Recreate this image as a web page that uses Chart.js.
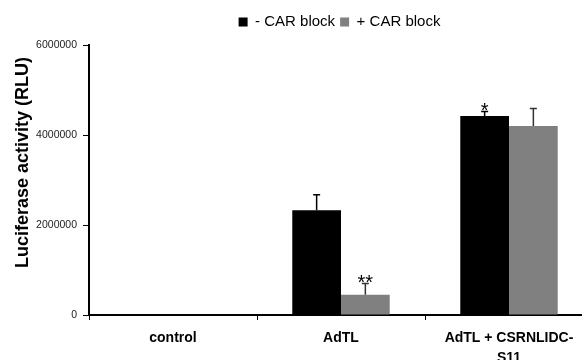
<!DOCTYPE html>
<html>
<head>
<meta charset="utf-8">
<script src="https://cdn.jsdelivr.net/npm/chart.js@4.4.1/dist/chart.umd.min.js"></script>
<style>
  html, body { margin: 0; padding: 0; background: #fff; overflow: hidden; width: 582px; height: 360px; }
  #wrap { position: absolute; left: 0; top: 0; width: 593px; height: 360px; }
</style>
</head>
<body>
<div id="wrap"><canvas id="c" width="593" height="360"></canvas></div>
<script>
// Luciferase activity with and without CAR blocking
const categories = ['control', 'AdTL', ['AdTL + CSRNLIDC-', 'S11']];
const seriesNames = ['- CAR block', '+ CAR block'];
const minusBlock = [0, 2330000, 4420000];
const plusBlock = [0, 450000, 4200000];
const minusBlockErr = [0, 340000, 100000];
const plusBlockErr = [0, 250000, 390000];
const minusBlockMarks = ['', '', '*'];
const plusBlockMarks = ['', '**', ''];
const yTicks = [0, 2000000, 4000000, 6000000];
const yTitle = 'Luciferase activity (RLU)';

const FONT = '"Liberation Sans", Arial, sans-serif';
const errors = [minusBlockErr, plusBlockErr];
const marks = [minusBlockMarks, plusBlockMarks];
const errColors = ['#000000', '#333333'];

// Legend sits right of centre and a little above its reserved band
const legendNudge = {
  id: 'legendNudge',
  afterLayout(chart) {
    const l = chart.legend;
    if (!l) return;
    l.left += 43; l.right += 43;
    l.top -= 5.5; l.bottom -= 5.5;
  }
};

// Upward error whiskers, significance stars and the rotated y title
const extras = {
  id: 'extras',
  afterDatasetsDraw(chart) {
    const ctx = chart.ctx;
    const y = chart.scales.y;
    ctx.save();
    chart.data.datasets.forEach((ds, i) => {
      const meta = chart.getDatasetMeta(i);
      meta.data.forEach((bar, j) => {
        const v = ds.data[j];
        const e = errors[i][j];
        let topPx = y.getPixelForValue(v);
        if (e > 0) {
          topPx = y.getPixelForValue(v + e);
          ctx.strokeStyle = errColors[i];
          ctx.lineWidth = 1.5;
          ctx.beginPath();
          ctx.moveTo(bar.x, y.getPixelForValue(v));
          ctx.lineTo(bar.x, topPx);
          ctx.moveTo(bar.x - 3.5, topPx);
          ctx.lineTo(bar.x + 3.5, topPx);
          ctx.stroke();
        }
        const m = marks[i][j];
        if (m) {
          ctx.font = '20px ' + FONT;
          ctx.fillStyle = '#000';
          ctx.textAlign = 'center';
          ctx.textBaseline = 'alphabetic';
          const mt = ctx.measureText(m);
          const asc = mt.actualBoundingBoxAscent, desc = mt.actualBoundingBoxDescent;
          const centerY = topPx - 5;
          ctx.fillText(m, bar.x, centerY + (asc - desc) / 2);
        }
      });
    });
    // y axis title
    ctx.font = 'bold 18px ' + FONT;
    ctx.fillStyle = '#000';
    ctx.textAlign = 'center';
    ctx.textBaseline = 'middle';
    ctx.translate(23.5, 162.5);
    ctx.rotate(-Math.PI / 2);
    ctx.fillText(yTitle, 0, 0);
    ctx.restore();
  }
};

new Chart(document.getElementById('c'), {
  type: 'bar',
  data: {
    labels: categories,
    datasets: [
      { label: seriesNames[0], data: minusBlock, backgroundColor: '#000000', borderWidth: 0 },
      { label: seriesNames[1], data: plusBlock, backgroundColor: '#808080', borderWidth: 0 }
    ]
  },
  options: {
    responsive: false,
    animation: false,
    devicePixelRatio: 1,
    layout: { padding: { left: 0, right: 0, top: 15, bottom: 0 } },
    categoryPercentage: 0.58,
    barPercentage: 1.0,
    plugins: {
      legend: {
        position: 'top',
        labels: {
          boxWidth: 9, boxHeight: 9, padding: 5,
          color: '#000',
          font: { family: FONT, size: 15 }
        }
      },
      tooltip: { enabled: false }
    },
    scales: {
      x: {
        grid: { display: true, drawOnChartArea: false, drawTicks: true, tickLength: 5, color: '#000', lineWidth: 1, offset: true },
        border: { display: true, color: '#000', width: 2 },
        ticks: {
          color: '#000', padding: 8, maxRotation: 0, autoSkip: false,
          font: { family: FONT, size: 14, weight: 'bold', lineHeight: 1.45 }
        },
        afterFit(scale) { scale.height = 45; }
      },
      y: {
        min: 0, max: 6000000,
        afterBuildTicks(scale) { scale.ticks = yTicks.map(v => ({ value: v })); },
        grid: { display: true, drawOnChartArea: false, drawTicks: true, tickLength: 6, color: '#000', lineWidth: 1 },
        border: { display: true, color: '#000', width: 2 },
        ticks: {
          color: '#222', padding: 6,
          font: { family: FONT, size: 10.5 },
          callback: (v) => String(v)
        },
        afterFit(scale) { scale.width = 89; }
      }
    }
  },
  plugins: [legendNudge, extras]
});
</script>
</body>
</html>
